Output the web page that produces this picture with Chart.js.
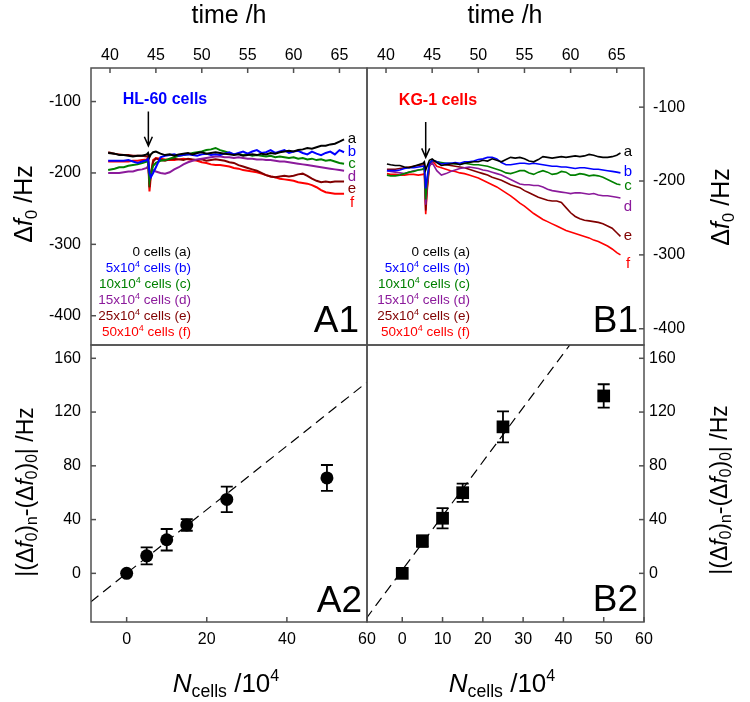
<!DOCTYPE html>
<html>
<head>
<meta charset="utf-8">
<script src="https://cdn.jsdelivr.net/npm/chart.js@4.4.1/dist/chart.umd.min.js"></script>
<style>
  body { margin: 0; background: #fff; font-family: "Liberation Sans", Arial, sans-serif; }
  #fig { position: relative; width: 750px; height: 702px; overflow: hidden; }
  #fig canvas { position: absolute; left: 0; top: 0; pointer-events: none; }
  .t { position: absolute; white-space: nowrap; line-height: 1; color: #000; transform: translate(-50%, -50%); }
  .r { transform: translate(-100%, -50%); }
  .rot { transform: translate(-50%, -50%) rotate(-90deg); }
  .leg { position: absolute; text-align: right; font-size: 13.5px; line-height: 16px; transform: translateX(-100%); white-space: nowrap; }
  sup { font-size: 9px; line-height: 0; vertical-align: 5px; }
  sub { font-size: 0.68em; line-height: 0; vertical-align: -0.3em; }
  i { font-style: italic; }
</style>
</head>
<body>
<div id="fig">
  <canvas id="cA1" width="750" height="702"></canvas>
  <canvas id="cB1" width="750" height="702"></canvas>
  <canvas id="cA2" width="750" height="702"></canvas>
  <canvas id="cB2" width="750" height="702"></canvas>

  <div class="t" style="left:229px;top:14px;font-size:25px">time /h</div>
  <div class="t" style="left:505px;top:14px;font-size:25px">time /h</div>
  <div class="t rot" style="left:23px;top:204px;font-size:25px">&Delta;<i>f</i><sub>0</sub> /Hz</div>
  <div class="t rot" style="left:720px;top:207px;font-size:25px">&Delta;<i>f</i><sub>0</sub> /Hz</div>
  <div class="t rot" style="left:25px;top:492px;font-size:23px">|(&Delta;<i>f</i><sub>0</sub>)<sub>n</sub>-(&Delta;<i>f</i><sub>0</sub>)<sub>0</sub>| /Hz</div>
  <div class="t rot" style="left:719px;top:490px;font-size:23px">|(&Delta;<i>f</i><sub>0</sub>)<sub>n</sub>-(&Delta;<i>f</i><sub>0</sub>)<sub>0</sub>| /Hz</div>
  <div class="t" style="left:226px;top:683px;font-size:26px"><i>N</i><sub>cells</sub> /10<sup style="font-size:16px;vertical-align:11px">4</sup></div>
  <div class="t" style="left:502px;top:683px;font-size:26px"><i>N</i><sub>cells</sub> /10<sup style="font-size:16px;vertical-align:11px">4</sup></div>

  <div class="t" style="left:165px;top:99px;font-size:16px;font-weight:bold;color:#0000ff">HL-60 cells</div>
  <div class="t" style="left:438px;top:100px;font-size:16px;font-weight:bold;color:#ff0000">KG-1 cells</div>

  <div class="t" style="left:352px;top:137px;font-size:15px;color:#000">a</div>
  <div class="t" style="left:352px;top:150px;font-size:15px;color:#0000ff">b</div>
  <div class="t" style="left:352px;top:162px;font-size:15px;color:#008000">c</div>
  <div class="t" style="left:352px;top:175px;font-size:15px;color:#8b1a9b">d</div>
  <div class="t" style="left:352px;top:187px;font-size:15px;color:#800000">e</div>
  <div class="t" style="left:352px;top:201px;font-size:15px;color:#ff0000">f</div>

  <div class="t" style="left:628px;top:150px;font-size:15px;color:#000">a</div>
  <div class="t" style="left:628px;top:170px;font-size:15px;color:#0000ff">b</div>
  <div class="t" style="left:628px;top:184px;font-size:15px;color:#008000">c</div>
  <div class="t" style="left:628px;top:205px;font-size:15px;color:#8b1a9b">d</div>
  <div class="t" style="left:628px;top:234px;font-size:15px;color:#800000">e</div>
  <div class="t" style="left:628px;top:262px;font-size:15px;color:#ff0000">f</div>

  <div class="leg" style="left:191px;top:244px">
    <div style="color:#000">0 cells (a)</div>
    <div style="color:#0000ff">5x10<sup>4</sup> cells (b)</div>
    <div style="color:#008000">10x10<sup>4</sup> cells (c)</div>
    <div style="color:#8b1a9b">15x10<sup>4</sup> cells (d)</div>
    <div style="color:#800000">25x10<sup>4</sup> cells (e)</div>
    <div style="color:#ff0000">50x10<sup>4</sup> cells (f)</div>
  </div>
  <div class="leg" style="left:470px;top:244px">
    <div style="color:#000">0 cells (a)</div>
    <div style="color:#0000ff">5x10<sup>4</sup> cells (b)</div>
    <div style="color:#008000">10x10<sup>4</sup> cells (c)</div>
    <div style="color:#8b1a9b">15x10<sup>4</sup> cells (d)</div>
    <div style="color:#800000">25x10<sup>4</sup> cells (e)</div>
    <div style="color:#ff0000">50x10<sup>4</sup> cells (f)</div>
  </div>

  <div class="t r" style="left:359px;top:319px;font-size:37px">A1</div>
  <div class="t r" style="left:638px;top:319px;font-size:37px">B1</div>
  <div class="t r" style="left:362px;top:599px;font-size:37px">A2</div>
  <div class="t r" style="left:638px;top:598px;font-size:37px">B2</div>
</div>

<script>
  const FONT = '"Liberation Sans", Arial, sans-serif';

  // tick labels
  const timeTicks = [40, 45, 50, 55, 60, 65];
  const shiftTicks = [-100, -200, -300, -400];
  const diffTicks = [0, 40, 80, 120, 160];
  const cellTicksA = [0, 20, 40, 60];
  const cellTicksB = [0, 10, 20, 30, 40, 50, 60];

  // HL-60 time series (h, Hz)
  const timeA = [39.8, 40.5, 41, 41.5, 42, 42.5, 43, 43.5, 44, 44.15, 44.3, 44.45, 44.7,
    45, 45.5, 46, 46.5, 47, 47.5, 48, 48.5, 49, 49.5, 50, 50.5, 51, 51.5, 52, 52.5, 53, 53.5,
    54, 54.5, 55, 55.5, 56, 56.5, 57, 57.5, 58, 58.5, 59, 59.5, 60, 60.5, 61, 61.5, 62, 62.5,
    63, 63.5, 64, 64.5, 65, 65.5];
  const hl0 = [-172,-173,-175,-175,-176,-177,-176,-176,-174,-172, -178,-174,-171,-170,-173,-175,-174,-176,-174,-173,
    -172,-174,-172,-171,-173,-172,-171,-172,-173,-174, -175,-174,-176,-175,-174,-175,-173,-174,-172,-173,
    -171,-170,-169,-170,-168,-167,-165,-166,-164,-162, -162,-160,-159,-156,-153];
  const hl5 = [-183,-183,-183,-183,-182,-184,-186,-184,-182,-180, -200,-206,-200,-192,-178,-176,-175,-174,-176,-175,
    -174,-175,-176,-174,-173,-175,-174,-175,-173,-171, -174,-172,-170,-173,-170,-168,-172,-171,-168,-172,
    -170,-168,-172,-170,-169,-172,-174,-170,-173,-175, -172,-170,-174,-168,-171];
  const hl10 = [-196,-194,-192,-192,-190,-189,-188,-186,-184,-182, -212,-202,-190,-186,-183,-182,-180,-178,-176,-175,
    -174,-172,-171,-170,-168,-167,-165,-168,-170,-172, -174,-173,-175,-174,-176,-175,-176,-177,-176,-178,
    -177,-178,-179,-178,-180,-179,-181,-180,-182,-181, -183,-182,-184,-186,-187];
  const hl15 = [-200,-200,-200,-199,-198,-198,-196,-195,-193,-190, -208,-200,-196,-198,-200,-201,-199,-195,-192,-188,
    -185,-183,-181,-180,-179,-178,-177,-177,-178,-178, -179,-178,-179,-180,-180,-181,-181,-182,-182,-183,
    -184,-184,-185,-186,-187,-188,-189,-190,-191,-192, -193,-194,-195,-196,-197];
  const hl25 = [-171,-173,-174,-175,-175,-176,-176,-176,-177,-176, -220,-200,-184,-180,-182,-183,-181,-180,-181,-182,
    -180,-181,-182,-181,-183,-182,-181,-182,-183,-185, -186,-189,-191,-193,-195,-197,-200,-203,-205,-206,
    -205,-204,-205,-204,-202,-201,-204,-208,-211,-213, -212,-213,-212,-212,-212];
  const hl50 = [-184,-184,-184,-184,-184,-183,-183,-182,-181,-179, -226,-205,-182,-179,-180,-181,-182,-182,-181,-180,
    -181,-182,-183,-185,-186,-188,-189,-189,-190,-191, -193,-194,-196,-197,-198,-199,-201,-203,-205,-206,
    -208,-209,-210,-211,-213,-214,-215,-217,-220,-224, -227,-228,-229,-229,-229];

  // KG-1 time series (h, Hz)
  const timeB = [40.1, 40.5, 41, 41.5, 42, 42.5, 43, 43.5, 44, 44.15, 44.3, 44.45, 44.7,
    45, 45.5, 46, 46.5, 47, 47.5, 48, 48.5, 49, 49.5, 50, 50.5, 51, 51.5, 52, 52.5, 53, 53.5,
    54, 54.5, 55, 55.5, 56, 56.5, 57, 57.5, 58, 58.5, 59, 59.5, 60, 60.5, 61, 61.5, 62, 62.5,
    63, 63.5, 64, 64.5, 65, 65.4];
  const kg0 = [-177,-178,-179,-179,-181,-182,-180,-178,-176,-174, -185,-180,-172,-170,-175,-179,-178,-177,-176,-178,
    -176,-175,-174,-174,-172,-173,-170,-172,-174,-171, -168,-169,-168,-170,-173,-174,-171,-167,-168,-169,
    -168,-167,-168,-167,-166,-167,-166,-164,-165,-167, -168,-168,-167,-165,-162];
  const kg5 = [-186,-186,-186,-185,-183,-182,-182,-181,-180,-179, -210,-195,-176,-172,-174,-177,-176,-176,-175,-176,
    -174,-174,-173,-171,-170,-168,-168,-170,-175,-178, -178,-177,-176,-176,-177,-176,-177,-178,-179,-180,
    -180,-181,-181,-182,-183,-182,-182,-183,-184,-184, -185,-186,-187,-188,-189];
  const kg10 = [-192,-193,-193,-192,-190,-188,-187,-185,-184,-181, -225,-200,-176,-172,-174,-175,-176,-176,-177,-177,
    -176,-177,-178,-178,-179,-180,-182,-184,-186,-189, -190,-188,-186,-186,-189,-191,-188,-186,-188,-191,
    -190,-187,-188,-192,-192,-190,-191,-193,-192,-193, -195,-198,-201,-204,-205];
  const kg15 = [-186,-187,-188,-189,-190,-188,-186,-185,-184,-182, -232,-205,-180,-175,-186,-192,-190,-187,-185,-183,
    -182,-181,-182,-183,-185,-186,-188,-190,-192,-195, -198,-201,-204,-205,-205,-206,-206,-208,-211,-213,
    -214,-215,-216,-217,-216,-216,-217,-218,-217,-219, -220,-220,-221,-222,-223];
  const kg25 = [-184,-184,-184,-183,-182,-181,-180,-179,-178,-177, -240,-210,-178,-172,-174,-176,-178,-179,-180,-181,
    -182,-184,-186,-188,-190,-192,-195,-197,-199,-202, -205,-207,-209,-213,-216,-219,-222,-224,-226,-227,
    -227,-229,-236,-243,-248,-251,-253,-254,-255,-256, -258,-261,-264,-270,-275];
  const kg50 = [-190,-191,-191,-192,-192,-191,-191,-192,-191,-190, -245,-215,-180,-172,-180,-182,-184,-186,-187,-189,
    -190,-192,-194,-196,-199,-202,-205,-208,-212,-216, -220,-225,-230,-234,-239,-244,-248,-252,-255,-258,
    -261,-264,-267,-269,-271,-273,-275,-277,-280,-282, -285,-288,-292,-297,-300];

  // frequency shift vs number of cells
  const cells = [0, 5, 10, 15, 25, 50];
  const hlDiff = [0, 13, 25, 36, 55, 71];
  const hlErr = [0, 6.3, 8, 4.3, 9.5, 9.6];
  const kgDiff = [0, 24, 41, 60, 109, 132];
  const kgErr = [0, 4.2, 7.5, 6.8, 11.5, 8.7];
  const fitXA = [-9, 60];
  const fitYA = [-21.3, 142.2];
  const fitXB = [-9, 41.6];
  const fitYB = [-33.8, 170];

  const colors = ['#000000', '#0000ff', '#008000', '#8b1a9b', '#800000', '#ff0000'];

  function pts(xs, ys) {
    return xs.map((x, i) => ({ x: x, y: ys[i] }));
  }

  function lines(xs, list, w) {
    return list.map((ys, k) => ({
      data: pts(xs, ys), showLine: true, borderColor: colors[k], borderWidth: w,
      pointRadius: 0, tension: 0, fill: false
    }));
  }

  function axis(pos, min, max, ticks, size, pad) {
    return {
      type: 'linear', position: pos, min: min, max: max,
      grid: { display: false, drawTicks: false },
      border: { display: false },
      ticks: { font: { family: FONT, size: 16 }, color: '#000', padding: pad, autoSkip: false, maxRotation: 0 },
      afterBuildTicks: s => { s.ticks = ticks.map(v => ({ value: v })); },
      afterFit: s => {
        if (s.isHorizontal()) s.height = size; else s.width = size;
        s.paddingLeft = 0; s.paddingRight = 0; s.paddingTop = 0; s.paddingBottom = 0;
      }
    };
  }

  // box, inward ticks and the arrow marking cell addition
  const frame = {
    id: 'frame',
    afterDraw(chart, args, opts) {
      const { ctx, chartArea: a } = chart;
      ctx.save();
      ctx.strokeStyle = '#505050';
      ctx.lineWidth = 1.5;
      ctx.strokeRect(a.left, a.top, a.right - a.left, a.bottom - a.top);
      Object.values(chart.scales).forEach(s => {
        s.ticks.forEach(t => {
          const p = s.getPixelForValue(t.value);
          ctx.beginPath();
          if (s.isHorizontal()) {
            const y0 = s.position === 'top' ? a.top : a.bottom;
            ctx.moveTo(p, y0);
            ctx.lineTo(p, y0 + (s.position === 'top' ? 5 : -5));
          } else {
            const x0 = s.position === 'left' ? a.left : a.right;
            ctx.moveTo(x0, p);
            ctx.lineTo(x0 + (s.position === 'left' ? 5 : -5), p);
          }
          ctx.stroke();
        });
      });
      if (opts.arrow) {
        const ar = opts.arrow;
        const x = chart.scales.x.getPixelForValue(ar.t);
        const y1 = chart.scales.y.getPixelForValue(ar.from);
        const y2 = chart.scales.y.getPixelForValue(ar.to);
        ctx.strokeStyle = '#000';
        ctx.lineWidth = 1.5;
        ctx.beginPath();
        ctx.moveTo(x, y1); ctx.lineTo(x, y2);
        ctx.moveTo(x - 4, y2 - 9); ctx.lineTo(x, y2); ctx.lineTo(x + 4, y2 - 9);
        ctx.stroke();
      }
      ctx.restore();
    }
  };

  const errorBars = {
    id: 'errorBars',
    afterDatasetsDraw(chart) {
      const { ctx } = chart;
      const xs = chart.scales.x, ys = chart.scales.y;
      chart.data.datasets.forEach(ds => {
        if (!ds.errors) return;
        ctx.save();
        ctx.strokeStyle = '#000';
        ctx.lineWidth = 1.8;
        ds.data.forEach((p, i) => {
          const e = ds.errors[i];
          if (!e) return;
          const px = xs.getPixelForValue(p.x);
          const y1 = ys.getPixelForValue(p.y + e), y2 = ys.getPixelForValue(p.y - e);
          ctx.beginPath();
          ctx.moveTo(px, y1); ctx.lineTo(px, y2);
          ctx.moveTo(px - 6, y1); ctx.lineTo(px + 6, y1);
          ctx.moveTo(px - 6, y2); ctx.lineTo(px + 6, y2);
          ctx.stroke();
        });
        ctx.restore();
      });
    }
  };

  function panel(id, pad, datasets, x, y, frameOpts) {
    new Chart(document.getElementById(id), {
      type: 'scatter',
      data: { datasets: datasets },
      options: {
        responsive: false,
        animation: false,
        devicePixelRatio: 1,
        layout: { padding: pad },
        plugins: { legend: { display: false }, tooltip: { enabled: false }, frame: frameOpts || {} },
        scales: { x: x, y: y }
      },
      plugins: [frame, errorBars]
    });
  }

  // A1: HL-60 time traces
  panel('cA1', { left: 0, top: 0, right: 383, bottom: 357 },
    lines(timeA, [hl0, hl5, hl10, hl15, hl25, hl50], 2),
    axis('top', 37.93, 68.0, timeTicks, 68, 3),
    axis('left', -441, -53, shiftTicks, 91, 10),
    { arrow: { t: 44.18, from: -114, to: -162 } });

  // B1: KG-1 time traces
  panel('cB1', { left: 367, top: 0, right: 46, bottom: 357 },
    lines(timeB, [kg0, kg5, kg10, kg15, kg25, kg50], 1.6),
    axis('top', 37.94, 67.95, timeTicks, 68, 3),
    axis('right', -422, -47, shiftTicks, 60, 9),
    { arrow: { t: 44.3, from: -120, to: -168 } });

  // A2: HL-60 shift vs cells
  panel('cA2', { left: 0, top: 345, right: 383, bottom: 0 }, [
      { data: pts(fitXA, fitYA), showLine: true, borderColor: '#000', borderWidth: 1.2, borderDash: [10, 6], pointRadius: 0 },
      { data: pts(cells, hlDiff), errors: hlErr, pointStyle: 'circle', pointRadius: 6.5, backgroundColor: '#000', borderColor: '#000', borderWidth: 0 }
    ],
    axis('bottom', -8.9, 60, cellTicksA, 80, 8),
    axis('left', -36.2, 169.9, diffTicks, 91, 10));

  // B2: KG-1 shift vs cells
  panel('cB2', { left: 367, top: 345, right: 46, bottom: 0 }, [
      { data: pts(fitXB, fitYB), showLine: true, borderColor: '#000', borderWidth: 1.2, borderDash: [10, 6], pointRadius: 0 },
      { data: pts(cells, kgDiff), errors: kgErr, pointStyle: 'rect', pointRadius: 9, backgroundColor: '#000', borderColor: '#000', borderWidth: 0 }
    ],
    axis('bottom', -8.75, 60, cellTicksB, 80, 8),
    axis('right', -36.2, 169.9, diffTicks, 60, 5));
</script>
</body>
</html>
